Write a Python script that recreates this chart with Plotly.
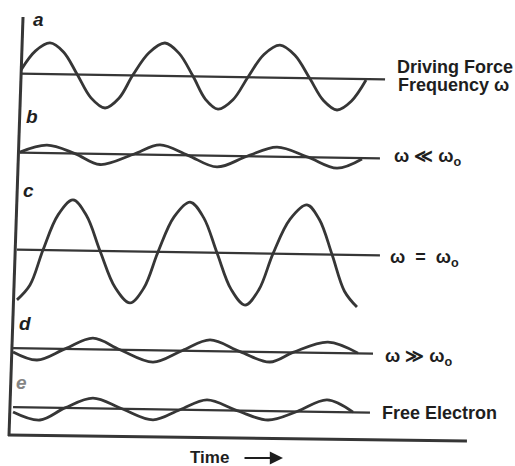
import plotly.graph_objects as go

# ---- data -----------------------------------------------------------------
# time in periods of the driving force, displacement in units of the
# driving-force amplitude (relative to each trace's own zero line)
a_t = [0.009, 0.134, 0.259, 0.375, 0.491, 0.612, 0.733, 0.853, 0.974, 1.112, 1.250,
       1.370, 1.491, 1.599, 1.707, 1.836, 1.966, 2.103, 2.241, 2.370, 2.500, 2.616,
       2.733, 2.858, 2.983]
a_y = [0.12, 0.72, 0.975, 0.70, 0.02, -0.72, -1.03, -0.72, 0.02, 0.72, 1.03,
       0.72, 0.01, -0.71, -1.01, -0.71, 0.01, 0.72, 1.02, 0.71, -0.02, -0.69,
       -0.98, -0.69, -0.03]

b_t = [0.0, 0.233, 0.474, 0.690, 0.974, 1.207, 1.448, 1.698, 1.957, 2.216, 2.483, 2.733, 2.948]
b_y = [0.02, 0.25, 0.0, -0.33, 0.0, 0.31, 0.0, -0.35, 0.0, 0.30, 0.0, -0.33, -0.03]

c_t = [-0.026, 0.086, 0.198, 0.327, 0.457, 0.573, 0.690, 0.819, 0.948, 1.069, 1.190,
       1.328, 1.466, 1.582, 1.698, 1.819, 1.940, 2.060, 2.181, 2.327, 2.474, 2.582,
       2.690, 2.797, 2.905]
c_y = [-1.57, -1.10, 0.0, 1.10, 1.58, 1.10, 0.0, -1.13, -1.61, -1.13, 0.0,
       1.10, 1.57, 1.10, 0.0, -1.13, -1.62, -1.13, 0.0, 1.08, 1.54, 1.08,
       0.0, -1.14, -1.63]

d_t = [-0.060, 0.147, 0.388, 0.629, 0.862, 1.147, 1.397, 1.638, 1.897, 2.155, 2.353, 2.655, 2.914]
d_y = [-0.12, -0.36, 0.0, 0.35, 0.0, -0.37, 0.0, 0.35, 0.0, -0.31, 0.0, 0.34, 0.01]

e_t = [-0.060, 0.172, 0.388, 0.629, 0.879, 1.147, 1.379, 1.612, 1.871, 2.138, 2.388, 2.647, 2.871]
e_y = [-0.15, -0.39, 0.0, 0.32, 0.0, -0.33, 0.0, 0.32, 0.0, -0.28, 0.0, 0.38, 0.01]

# zero-line extents (time) for each panel
zero_start = [0.0, 0.0, -0.026, -0.060, -0.060]
zero_end = [3.147, 3.103, 3.103, 3.043, 3.017]

panel_letters = ["a", "b", "c", "d", "e"]
panel_labels = [
    "Driving Force",
    "ω ≪ ω<sub>o</sub>",
    "ω  =  ω<sub>o</sub>",
    "ω ≫ ω<sub>o</sub>",
    "Free Electron",
]
x_title = "Time"

# ---- layout parameters -----------------------------------------------------
W, H = 515, 466
X_RANGE = [-0.17241, 4.26724]
Y_RANGE = [-12.171875, 2.390625]
OFFSETS = [0.0, -2.469, -5.5, -8.578, -10.422]   # vertical stacking of panels
SKEW, PIVOT = -0.0562, 1.552                     # slight tilt of the scan
INK = "#363636"
TXT = "#1e1e1e"
FONT = "Liberation Sans, Arial, Helvetica, sans-serif"

waves = [(a_t, a_y), (b_t, b_y), (c_t, c_y), (d_t, d_y), (e_t, e_y)]

fig = go.Figure()

for i, (tt, yy) in enumerate(waves):
    off = OFFSETS[i]
    zx = [zero_start[i], zero_end[i]]
    fig.add_trace(go.Scatter(
        x=zx, y=[off + SKEW * (v - PIVOT) for v in zx],
        mode="lines", line=dict(color=INK, width=2.2), hoverinfo="skip",
        showlegend=False))
    fig.add_trace(go.Scatter(
        x=tt, y=[off + v + SKEW * (t - PIVOT) for t, v in zip(tt, yy)],
        mode="lines", line=dict(color=INK, width=2.8, shape="spline", smoothing=1.0),
        hoverinfo="skip", showlegend=False))

# frame (hand-drawn axes of the figure)
frame_vert_t = [0.026, -0.095]
frame_vert_y = [1.859, -11.234]
frame_horz_t = [-0.103, 3.853]
frame_horz_y = [-11.203, -11.39]
fig.add_trace(go.Scatter(x=frame_vert_t, y=frame_vert_y, mode="lines",
                         line=dict(color=INK, width=3), hoverinfo="skip", showlegend=False))
fig.add_trace(go.Scatter(x=frame_horz_t, y=frame_horz_y, mode="lines",
                         line=dict(color=INK, width=3), hoverinfo="skip", showlegend=False))


def px(x, y):
    return x / W, 1 - y / H


ann = []
letter_pos = [(38, 19), (32, 116), (28, 190), (25, 323), (21, 382)]
for i, (lx, ly) in enumerate(letter_pos):
    x, y = px(lx, ly)
    ann.append(dict(x=x, y=y, xref="paper", yref="paper", showarrow=False,
                    xanchor="center", yanchor="middle",
                    text="<b><i>%s</i></b>" % panel_letters[i],
                    font=dict(family=FONT, size=19,
                              color="#858585" if i == 4 else TXT)))

right_pos = [(395, 67), (392, 158), (388, 258), (383, 357), (380, 413)]
for i, (lx, ly) in enumerate(right_pos):
    x, y = px(lx, ly)
    ann.append(dict(x=x, y=y, xref="paper", yref="paper", showarrow=False,
                    xanchor="left", yanchor="middle",
                    text="<b>%s</b>" % panel_labels[i],
                    font=dict(family=FONT, size=18, color=TXT)))
x, y = px(511, 85)
ann.append(dict(x=x, y=y, xref="paper", yref="paper", showarrow=False,
                xanchor="right", yanchor="middle", text="<b>Frequency ω</b>",
                font=dict(family=FONT, size=18, color=TXT)))

x, y = px(188, 457)
ann.append(dict(x=x, y=y, xref="paper", yref="paper", showarrow=False,
                xanchor="left", yanchor="middle", text="<b>%s</b>" % x_title,
                font=dict(family=FONT, size=17, color=TXT)))
x, y = px(283, 458)
ann.append(dict(x=x, y=y, xref="paper", yref="paper", showarrow=True,
                ax=-40, ay=0, axref="pixel", ayref="pixel", text="",
                arrowhead=2, arrowsize=1.2, arrowwidth=2.2, arrowcolor=TXT))

fig.update_layout(
    width=W, height=H,
    margin=dict(l=0, r=0, t=0, b=0),
    paper_bgcolor="white", plot_bgcolor="white",
    xaxis=dict(range=X_RANGE, visible=False, fixedrange=True),
    yaxis=dict(range=Y_RANGE, visible=False, fixedrange=True),
    annotations=ann,
    showlegend=False,
)

fig.write_html("out.html", config={"displayModeBar": False},
               post_script="document.body.style.margin='0';document.body.style.overflow='hidden';")
